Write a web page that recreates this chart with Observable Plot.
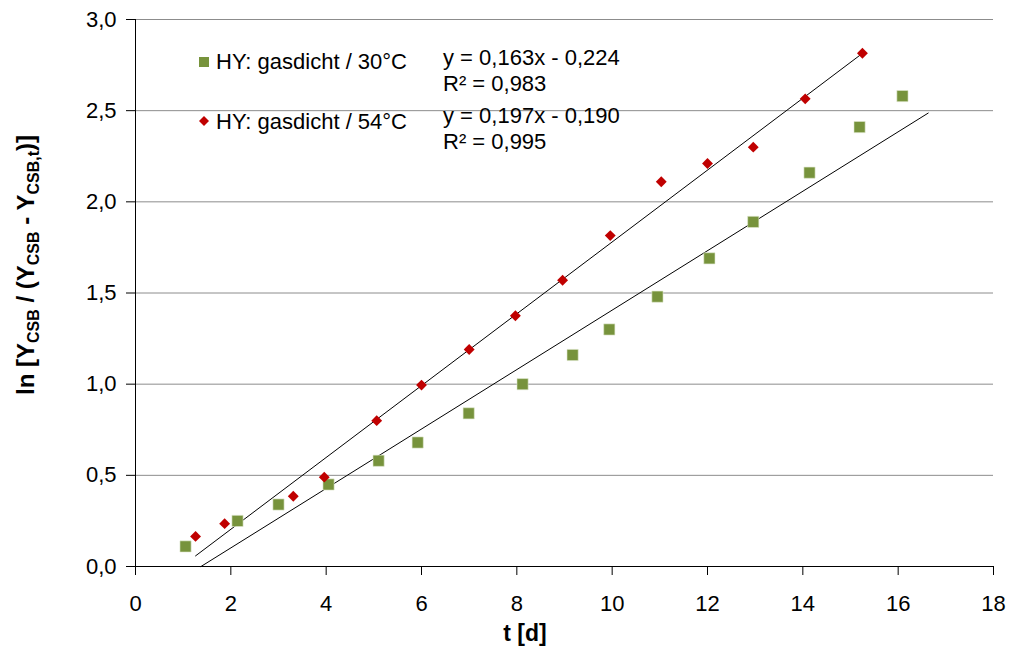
<!DOCTYPE html>
<html><head><meta charset="utf-8">
<script src="https://cdn.jsdelivr.net/npm/d3@7"></script>
<script src="https://cdn.jsdelivr.net/npm/@observablehq/plot@0.6"></script>
<style>body{margin:0;background:#fff;font-family:"Liberation Sans",Arial,sans-serif}</style>
</head><body><div id="chart"></div>
<script>
// Series: HY gasdicht 30°C (green squares)
const t30 = [1.05, 2.14, 3.0, 4.05, 5.1, 5.92, 6.99, 8.12, 9.17, 9.94, 10.95, 12.04, 12.96, 14.14, 15.19, 16.09];
const v30 = [0.11, 0.25, 0.34, 0.45, 0.58, 0.68, 0.84, 1.00, 1.16, 1.30, 1.48, 1.69, 1.89, 2.16, 2.41, 2.58];
// Series: HY gasdicht 54°C (red diamonds)
const t54 = [1.26, 1.87, 3.31, 3.96, 5.06, 6.0, 7.0, 7.97, 8.96, 9.96, 11.03, 12.0, 12.96, 14.05, 15.25];
const v54 = [0.165, 0.235, 0.385, 0.49, 0.80, 0.995, 1.19, 1.375, 1.57, 1.815, 2.11, 2.21, 2.30, 2.565, 2.815];
// Trend lines (slope, intercept, t-range)
const trend30 = {slope: 0.163, intercept: -0.224, range: [1.374, 16.63]};
const trend54 = {slope: 0.197, intercept: -0.190, range: [1.26, 15.25]};
const seriesNames = ["HY: gasdicht / 30°C", "HY: gasdicht / 54°C"];
const eqLabels = [["y = 0,163x - 0,224", "R² = 0,983"], ["y = 0,197x - 0,190", "R² = 0,995"]];
const xTicks = [0,2,4,6,8,10,12,14,16,18];
const yTicks = [0,0.5,1,1.5,2,2.5,3];

const green = "#77933C", red = "#C00000";
const d30 = t30.map((t,i)=>({t, v:v30[i]}));
const d54 = t54.map((t,i)=>({t, v:v54[i]}));
const line = tr => tr.range.map(t=>({t, v: tr.slope*t + tr.intercept}));
const font = '"Liberation Sans", Arial, sans-serif';

const plot = Plot.plot({
  width: 1010, height: 652,
  marginLeft: 135, marginRight: 17, marginTop: 19, marginBottom: 86,
  style: {fontFamily: font, fontSize: "22px", color: "#000", background: "#fff"},
  x: {domain: [0,18], ticks: xTicks, tickSize: 9, tickPadding: 20, label: null, tickFormat: d => String(d)},
  y: {domain: [0,3], ticks: yTicks, tickSize: 9, tickPadding: 10, label: null, tickFormat: d => d.toFixed(1).replace(".", ",")},
  marks: [
    Plot.ruleY(yTicks.filter(d=>d>0), {stroke: "#8c8c8c", strokeWidth: 1}),
    Plot.ruleY([0], {stroke: "#000", strokeWidth: 1}),
    Plot.ruleX([0], {stroke: "#000", strokeWidth: 1}),
    Plot.line(line(trend54), {x: "t", y: "v", stroke: "#000", strokeWidth: 1}),
    Plot.line(line(trend30), {x: "t", y: "v", stroke: "#000", strokeWidth: 1}),
    Plot.dot(d30, {x: "t", y: "v", symbol: "square", r: 6.3, fill: green, stroke: "#dfe8cf", strokeWidth: 0.6}),
    Plot.dot(d54, {x: "t", y: "v", symbol: "diamond2", r: 4.9, fill: red})
  ]
});
document.getElementById("chart").appendChild(plot);

const svg = d3.select(plot);

// Legend
const lg = svg.append("g").attr("font-family", font).attr("font-size", 22).attr("fill", "#000").attr("text-anchor", "start");
lg.append("rect").attr("x", 199).attr("y", 57).attr("width", 10).attr("height", 10).attr("fill", green);
lg.append("path").attr("d", d3.symbol(d3.symbolSquare, 50)()).attr("transform", "translate(204,121) rotate(45)").attr("fill", red);
lg.append("text").attr("x", 216).attr("y", 69).text(seriesNames[0]);
lg.append("text").attr("x", 216).attr("y", 129).text(seriesNames[1]);
lg.append("text").attr("x", 443).attr("y", 65).text(eqLabels[0][0]);
lg.append("text").attr("x", 443).attr("y", 91).text(eqLabels[0][1]);
lg.append("text").attr("x", 443).attr("y", 123).text(eqLabels[1][0]);
lg.append("text").attr("x", 443).attr("y", 149).text(eqLabels[1][1]);

// Axis titles
svg.append("text").attr("x", 525).attr("y", 641).attr("text-anchor", "middle")
  .attr("font-family", font).attr("font-size", 23).attr("font-weight", "bold").text("t [d]");
const yl = svg.append("text").attr("transform", "translate(34,265) rotate(-90)").attr("text-anchor", "middle")
  .attr("font-family", font).attr("font-size", 24).attr("font-weight", "bold");
yl.append("tspan").text("ln [Y");
yl.append("tspan").attr("font-size", 16).attr("dy", 5).text("CSB");
yl.append("tspan").attr("dy", -5).text(" / (Y");
yl.append("tspan").attr("font-size", 16).attr("dy", 5).text("CSB");
yl.append("tspan").attr("dy", -5).text(" - Y");
yl.append("tspan").attr("font-size", 16).attr("dy", 5).text("CSB,t");
yl.append("tspan").attr("dy", -5).text(")]");
</script></body></html>
